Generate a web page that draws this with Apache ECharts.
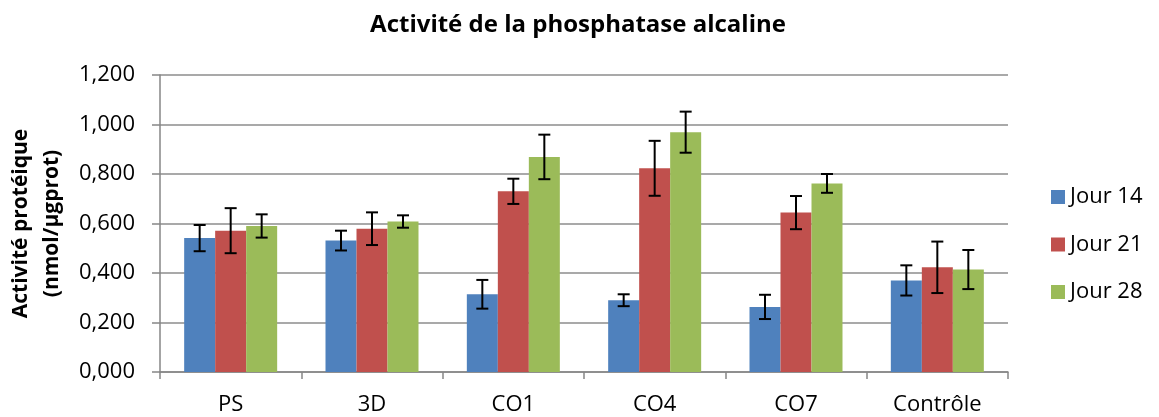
<!DOCTYPE html>
<html>
<head>
<meta charset="utf-8">
<script src="https://cdn.jsdelivr.net/npm/echarts@6/dist/echarts.min.js"></script>
<style>
  html, body { margin: 0; padding: 0; background: #fff; }
  #chart { width: 1159px; height: 417px; }
</style>
</head>
<body>
<div id="chart"></div>
<script>
// Categories and measured means / standard deviations
const categories = ['PS', '3D', 'CO1', 'CO4', 'CO7', 'Contrôle'];
const seriesNames = ['Jour 14', 'Jour 21', 'Jour 28'];
const jour14 = [0.541, 0.531, 0.314, 0.290, 0.263, 0.370];
const jour21 = [0.571, 0.579, 0.730, 0.823, 0.644, 0.423];
const jour28 = [0.590, 0.608, 0.869, 0.969, 0.762, 0.414];
const err14 = [0.053, 0.040, 0.058, 0.024, 0.049, 0.061];
const err21 = [0.091, 0.066, 0.051, 0.111, 0.067, 0.104];
const err28 = [0.047, 0.025, 0.090, 0.083, 0.038, 0.079];
const yTicks = [0, 0.2, 0.4, 0.6, 0.8, 1.0, 1.2];

const colors = ['#4F81BD', '#C0504D', '#9BBB59'];
const FONT = "'Open Sans', 'Noto Sans', sans-serif";
const CAT_GAP = 0.342;

const means = [jour14, jour21, jour28];
const errs = [err14, err21, err28];

const chart = echarts.init(document.getElementById('chart'), null, { renderer: 'canvas' });

// Error bars (± standard deviation) centred on each bar of a series
function errorSeries(idx) {
  const data = categories.map((c, i) => [i, means[idx][i] - errs[idx][i], means[idx][i] + errs[idx][i]]);
  return {
    type: 'custom',
    name: seriesNames[idx] + ' (écart-type)',
    z: 10,
    data: data,
    encode: { x: 0, y: [1, 2] },
    renderItem: function (params, api) {
      const cat = api.value(0);
      const lo = api.coord([cat, api.value(1)]);
      const hi = api.coord([cat, api.value(2)]);
      const band = api.size([1, 0])[0];
      const barW = band * (1 - CAT_GAP) / 3;
      const x = lo[0] + (idx - 1) * barW;
      const cap = 6;
      const style = { stroke: '#000', lineWidth: 2 };
      return {
        type: 'group',
        children: [
          { type: 'line', shape: { x1: x, y1: hi[1], x2: x, y2: lo[1] }, style: style },
          { type: 'line', shape: { x1: x - cap, y1: hi[1], x2: x + cap, y2: hi[1] }, style: style },
          { type: 'line', shape: { x1: x - cap, y1: lo[1], x2: x + cap, y2: lo[1] }, style: style }
        ]
      };
    }
  };
}

const barSeries = seriesNames.map((name, idx) => ({
  type: 'bar',
  name: name,
  data: means[idx],
  itemStyle: { color: colors[idx] },
  barGap: '0%',
  barCategoryGap: (CAT_GAP * 100) + '%'
}));

chart.setOption({
  animation: false,
  backgroundColor: '#fff',
  title: {
    text: 'Activité de la phosphatase alcaline',
    left: 573,
    textAlign: 'center',
    top: 8,
    textStyle: { fontFamily: FONT, fontWeight: 'bold', fontSize: 24, color: '#000' }
  },
  legend: {
    data: seriesNames,
    orient: 'vertical',
    left: 1046,
    top: 181,
    icon: 'rect',
    itemWidth: 14,
    itemHeight: 14,
    itemGap: 25.5,
    textStyle: { fontFamily: FONT, fontSize: 22, color: '#000' }
  },
  grid: { left: 160, right: 151, top: 75, bottom: 45, containLabel: false, outerBoundsMode: 'none' },
  xAxis: {
    type: 'category',
    data: categories,
    axisLine: { lineStyle: { color: '#868686', width: 1.5 } },
    axisTick: { show: true, length: 7, inside: false, lineStyle: { color: '#868686', width: 1.5 } },
    axisLabel: { fontFamily: FONT, fontSize: 22, color: '#000', margin: 22 }
  },
  yAxis: {
    type: 'value',
    min: 0,
    max: 1.2,
    interval: 0.2,
    name: 'Activité protéique\n(nmol/µgprot)',
    nameLocation: 'middle',
    nameGap: 92,
    nameRotate: 90,
    nameTextStyle: { fontFamily: FONT, fontWeight: 'bold', fontSize: 21, color: '#000', lineHeight: 31 },
    axisLine: { show: true, lineStyle: { color: '#868686', width: 1.5 } },
    axisTick: { show: true, length: 8, lineStyle: { color: '#868686', width: 1.5 } },
    splitLine: { lineStyle: { color: '#8c8c8c', width: 1.5 } },
    axisLabel: {
      fontFamily: FONT, fontSize: 22, color: '#000', margin: 25,
      formatter: v => yTicks.includes(Math.round(v * 10) / 10) ? v.toFixed(3).replace('.', ',') : ''
    }
  },
  series: barSeries.concat([0, 1, 2].map(errorSeries))
});
</script>
</body>
</html>
